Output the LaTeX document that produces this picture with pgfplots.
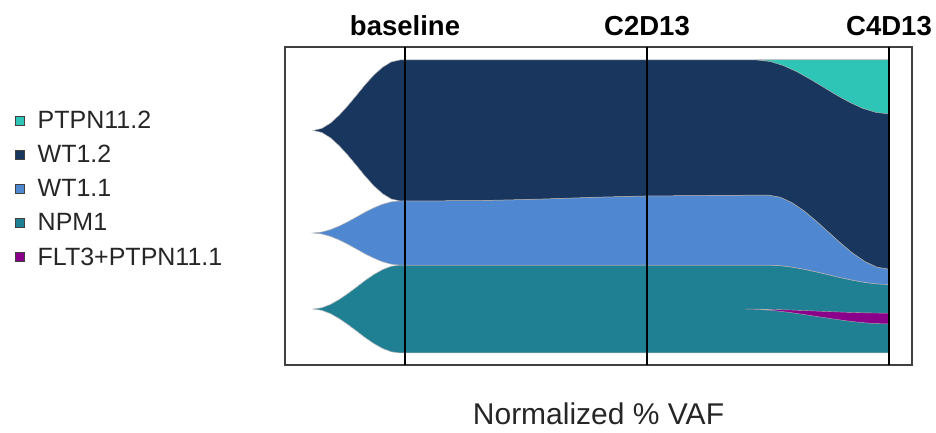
\documentclass[border=0pt]{standalone}
\usepackage{pgfplots}
\pgfplotsset{compat=1.18}
\usepackage{fontspec}
\setmainfont{Liberation Sans}

\definecolor{ptpnTwo}{HTML}{2EC4B6}
\definecolor{wtTwo}{HTML}{18365E}
\definecolor{wtOne}{HTML}{4F87D0}
\definecolor{npm}{HTML}{1F8093}
\definecolor{flt}{HTML}{8B008B}

\begin{document}
\begin{tikzpicture}[x=1bp,y=1bp]
\useasboundingbox (0,0) rectangle (936,433);
\begin{axis}[
  at={(285bp,68bp)}, anchor=south west,
  width=627bp, height=318bp, scale only axis,
  xmin=-0.4959, xmax=2.095, ymin=-4.10, ymax=104.44,
  axis line style={draw=black!75, line width=1.2bp},
  xtick={0,1,2}, xticklabels={baseline,C2D13,C4D13},
  xticklabel pos=upper, ytick=\empty, major tick length=0pt,
  xticklabel style={font=\fontsize{27.5bp}{31bp}\selectfont\bfseries, anchor=base, yshift=11bp},
  xlabel={Normalized \% VAF},
  xlabel style={at={(axis description cs:0.5,0)}, anchor=base, yshift=-60bp,
                font=\fontsize{30bp}{34bp}\selectfont, text=black!85},
  legend style={at={(axis description cs:-0.4306,0.8228)}, anchor=north west,
                draw=none, fill=none, inner sep=0pt, outer sep=0pt,
                font=\fontsize{25bp}{29bp}\selectfont, text=black!85,
                column sep=13bp, row sep=0pt,
                nodes={inner sep=0pt, minimum height=34.2bp}},
  legend cell align=left,
  legend image code/.code={\draw[#1, draw=black!75, line width=0.7bp] (0bp,-4.5bp) rectangle (9bp,4.5bp);},
  clip=true,
]
% clone NPM1
\addplot[fill=npm, draw=gray!60, line width=0.5bp, forget plot] coordinates {
  (-0.380,15) (-0.344,15.42) (-0.308,16.56) (-0.272,18.24) (-0.236,20.28) (-0.200,22.5)
  (-0.165,24.72) (-0.129,26.76) (-0.093,28.44) (-0.057,29.58) (-0.021,30) (1.5,30)
  (1.55,29.82) (1.60,29.31) (1.65,28.57) (1.70,27.68) (1.75,26.70) (1.80,25.72)
  (1.85,24.83) (1.90,24.09) (1.95,23.58) (2.0,23.4)
  (2.0,0) (-0.021,0) (-0.057,0.42) (-0.093,1.56) (-0.129,3.24) (-0.165,5.28)
  (-0.200,7.5) (-0.236,9.72) (-0.272,11.76) (-0.308,13.44) (-0.344,14.58)
} -- cycle;
% clone WT1.1
\addplot[fill=wtOne, draw=gray!60, line width=0.5bp, forget plot] coordinates {
  (-0.380,40.95) (-0.344,41.26) (-0.308,42.09) (-0.272,43.32) (-0.236,44.80) (-0.200,46.43)
  (-0.165,48.05) (-0.129,49.53) (-0.093,50.76) (-0.057,51.59) (-0.021,51.90)
  (0.30,52.0) (0.55,52.5) (0.80,53.2) (1.0,53.6) (1.5,53.9)
  (1.55,53.19) (1.60,51.27) (1.65,48.44) (1.70,44.99) (1.75,41.25) (1.80,37.51)
  (1.85,34.06) (1.90,31.23) (1.95,29.31) (2.0,28.6)
  (2.0,23.4) (1.95,23.58) (1.90,24.09) (1.85,24.83) (1.80,25.72) (1.75,26.70)
  (1.70,27.68) (1.65,28.57) (1.60,29.31) (1.55,29.82) (1.5,30) (-0.021,30)
  (-0.057,30.31) (-0.093,31.14) (-0.129,32.37) (-0.165,33.85) (-0.200,35.47)
  (-0.236,37.10) (-0.272,38.58) (-0.308,39.81) (-0.344,40.64)
} -- cycle;
% clone WT1.2
\addplot[fill=wtTwo, draw=gray!60, line width=0.5bp, forget plot] coordinates {
  (-0.380,75.95) (-0.344,76.62) (-0.308,78.45) (-0.272,81.14) (-0.236,84.42) (-0.200,87.98)
  (-0.165,91.53) (-0.129,94.81) (-0.093,97.50) (-0.057,99.33) (-0.021,100) (2.0,100)
  (2.0,28.6) (1.95,29.31) (1.90,31.23) (1.85,34.06) (1.80,37.51) (1.75,41.25)
  (1.70,44.99) (1.65,48.44) (1.60,51.27) (1.55,53.19) (1.5,53.9) (1.0,53.6)
  (0.80,53.2) (0.55,52.5) (0.30,52.0) (-0.021,51.9)
  (-0.057,52.57) (-0.093,54.40) (-0.129,57.09) (-0.165,60.37) (-0.200,63.93)
  (-0.236,67.48) (-0.272,70.76) (-0.308,73.45) (-0.344,75.28)
} -- cycle;
% subclone PTPN11.2
\addplot[fill=ptpnTwo, draw=gray!60, line width=0.5bp, forget plot] coordinates {
  (1.455,100) (2.0,100) (2.0,81.6) (1.946,82.12) (1.891,83.51) (1.837,85.57)
  (1.782,88.08) (1.728,90.80) (1.673,93.52) (1.619,96.03) (1.564,98.09) (1.510,99.48)
} -- cycle;
% subclone FLT3+PTPN11.1
\addplot[fill=flt, draw=gray!60, line width=0.4bp, forget plot] coordinates {
  (1.405,15) (1.465,14.96) (1.524,14.85) (1.584,14.70) (1.643,14.51) (1.703,14.30)
  (1.762,14.09) (1.822,13.90) (1.881,13.75) (1.941,13.64) (2.0,13.6)
  (2.0,9.9) (1.941,10.04) (1.881,10.43) (1.822,11.00) (1.762,11.70) (1.703,12.45)
  (1.643,13.20) (1.584,13.90) (1.524,14.47) (1.465,14.86)
} -- cycle;
% sampling time points
\addplot[black, line width=1.2bp, forget plot] coordinates {(0,-4.10) (0,104.44)};
\addplot[black, line width=1.2bp, forget plot] coordinates {(1,-4.10) (1,104.44)};
\addplot[black, line width=1.2bp, forget plot] coordinates {(2,-4.10) (2,104.44)};

\addlegendimage{fill=ptpnTwo}
\addlegendimage{fill=wtTwo}
\addlegendimage{fill=wtOne}
\addlegendimage{fill=npm}
\addlegendimage{fill=flt}
\legend{PTPN11.2,WT1.2,WT1.1,NPM1,FLT3+PTPN11.1}
\end{axis}
\end{tikzpicture}
\end{document}
